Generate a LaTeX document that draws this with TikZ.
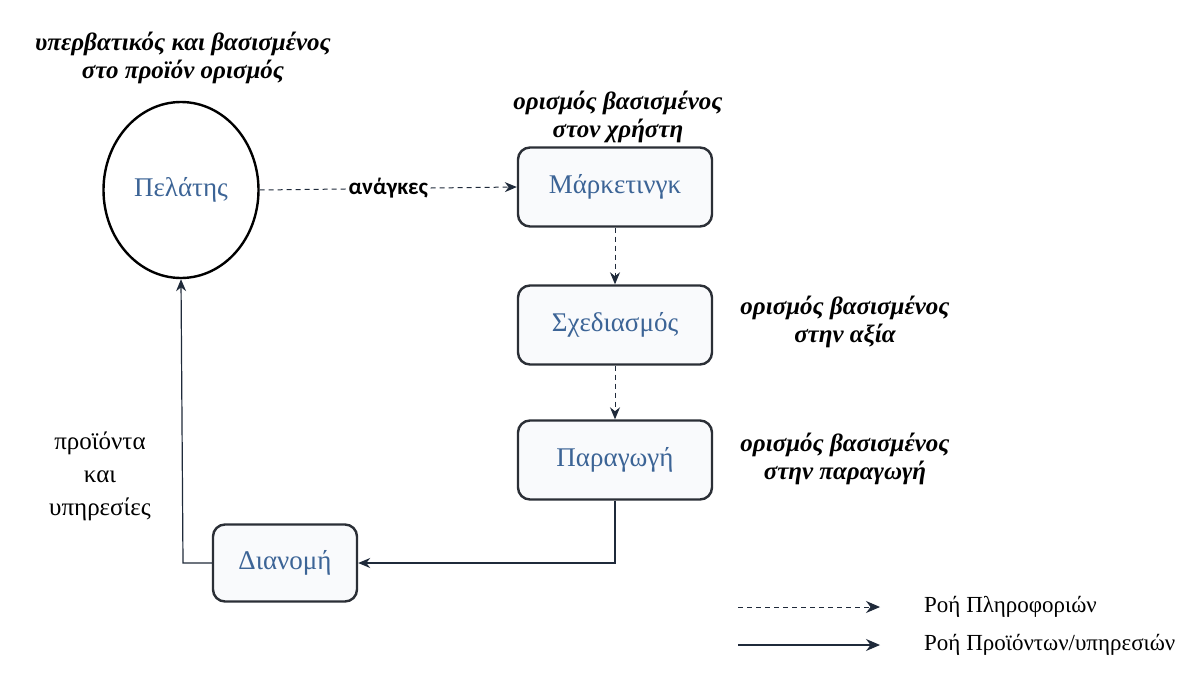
\documentclass[tikz,border=0pt]{standalone}
\usepackage{fontspec}
\setmainfont{Liberation Serif}
\newfontfamily\lblsans{Carlito}
\usetikzlibrary{arrows.meta,shapes.geometric}
\definecolor{boxtext}{HTML}{3C6496}
\definecolor{lineclr}{HTML}{1F2A3A}
\definecolor{boxedge}{HTML}{2B2F36}
\definecolor{boxfill}{HTML}{F9FAFC}
\tikzset{
  stagebox/.style={draw=boxedge, line width=2.4pt, rounded corners=12pt, fill=boxfill,
    minimum width=194pt, minimum height=79pt, font=\fontsize{27}{30}\selectfont, text=boxtext, inner sep=0pt},
  note/.style={font=\bfseries\itshape\fontsize{25}{28}\selectfont, align=center, inner sep=0pt},
  plain/.style={font=\fontsize{25}{33}\selectfont, align=center, inner sep=0pt},
  legendtext/.style={font=\fontsize{23}{26}\selectfont, anchor=west, inner sep=0pt},
  tip/.style={-{Stealth[length=12pt,width=10pt]}},
  infoflow/.style={tip, draw=lineclr, line width=1pt, dash pattern=on 5pt off 4pt},
  prodflow/.style={tip, draw=lineclr, line width=1.2pt},
  legendtip/.style={-{Stealth[length=14pt,width=12pt]}},
}
\begin{document}
\begin{tikzpicture}[x=1pt,y=-1pt]
\useasboundingbox (0,0) rectangle (1192,693);
\fill[white] (0,0) rectangle (1192,693);
% customer
\node[draw=black, line width=2.4pt, ellipse, minimum width=155pt, minimum height=176pt, inner sep=0pt,
  font=\fontsize{27}{30}\selectfont, text=boxtext] (cust) at (181,190) {Πελάτης};
\node[note] (custnote) at (183,58) {υπερβατικός και  βασισμένος\\στο προϊόν ορισμός};
% stages
\node[stagebox] (mkt) at (615,187) {Μάρκετινγκ};
\node[stagebox] (des) at (615,325) {Σχεδιασμός};
\node[stagebox] (prod) at (615,460) {Παραγωγή};
\node[stagebox, minimum width=144pt, minimum height=77pt] (dist) at (285,563) {Διανομή};
% notes
\node[note] (mktnote) at (618,117) {ορισμός βασισμένος\\στον χρήστη};
\node[note] (desnote) at (845,322) {ορισμός βασισμένος\\στην αξία};
\node[note] (prodnote) at (845,459) {ορισμός βασισμένος\\στην παραγωγή};
\node[plain] (prodsvc) at (100,476) {προϊόντα\\και\\υπηρεσίες};
% flows
\draw[infoflow] (cust.east) -- node[fill=white, inner sep=1pt, font=\lblsans\bfseries\fontsize{23}{26}\selectfont] (needs) {ανάγκες} (mkt.west);
\draw[infoflow] (mkt.south) -- (des.north);
\draw[infoflow] (des.south) -- (prod.north);
\draw[prodflow] (prod.south) |- (dist.east);
\coordinate (corner) at (183,563);
\draw[prodflow] (dist.west) -- (corner) -- (cust.south);
% legend
\coordinate (l1a) at (738,607); \coordinate (l1b) at (880,607);
\coordinate (l2a) at (738,645); \coordinate (l2b) at (880,645);
\draw[infoflow, legendtip] (l1a) -- (l1b);
\draw[prodflow, legendtip] (l2a) -- (l2b);
\node[legendtext] (leg1) at (924,607) {Ροή Πληροφοριών};
\node[legendtext] (leg2) at (924,645) {Ροή Προϊόντων/υπηρεσιών};
\end{tikzpicture}
\end{document}
